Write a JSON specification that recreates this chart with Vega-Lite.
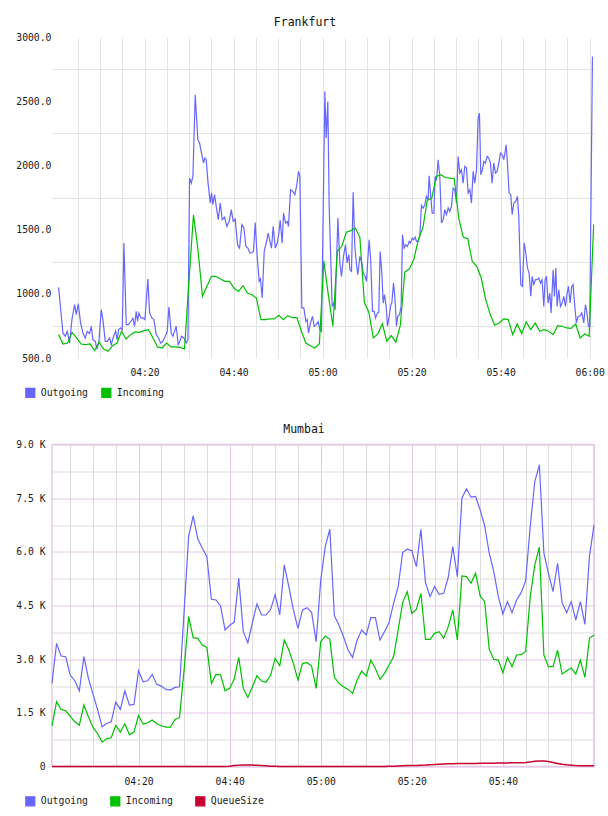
{
"$schema": "https://vega.github.io/schema/vega-lite/v6.json",
"padding": {"left": 15, "top": 16, "right": 0, "bottom": 0},
"background": "white",
"config": {
  "font": "DejaVu Sans Mono",
  "view": {"stroke": null},
  "axis": {"labelFont": "DejaVu Sans Mono", "labelFontSize": 9.7, "labelColor": "#1a1a1a", "domain": false, "ticks": false, "tickSize": 0, "title": null, "labelOverlap": false, "labelFlush": false, "labelBound": false},
  "legend": {"labelFont": "DejaVu Sans Mono", "labelFontSize": 9.8, "labelColor": "#1a1a1a"},
  "title": {"font": "DejaVu Sans Mono", "fontSize": 11.5, "fontWeight": "normal", "color": "#111111"},
  "line": {"strokeWidth": 1.2}
},
"datasets": {
"fra": [
{"m":0.70,"v":1050,"s":"Outgoing"},{"m":1.68,"v":695,"s":"Outgoing"},{"m":2.20,"v":669,"s":"Outgoing"},{"m":2.65,"v":708,"s":"Outgoing"},{"m":3.17,"v":617,"s":"Outgoing"},{"m":3.70,"v":799,"s":"Outgoing"},{"m":4.30,"v":916,"s":"Outgoing"},{"m":4.67,"v":838,"s":"Outgoing"},{"m":5.12,"v":923,"s":"Outgoing"},{"m":5.64,"v":773,"s":"Outgoing"},
{"m":6.17,"v":695,"s":"Outgoing"},{"m":6.69,"v":656,"s":"Outgoing"},{"m":7.14,"v":708,"s":"Outgoing"},{"m":7.66,"v":690,"s":"Outgoing"},{"m":8.04,"v":747,"s":"Outgoing"},{"m":8.41,"v":643,"s":"Outgoing"},{"m":8.94,"v":630,"s":"Outgoing"},{"m":9.31,"v":570,"s":"Outgoing"},{"m":9.76,"v":630,"s":"Outgoing"},{"m":10.28,"v":876,"s":"Outgoing"},
{"m":10.66,"v":799,"s":"Outgoing"},{"m":11.18,"v":630,"s":"Outgoing"},{"m":11.63,"v":630,"s":"Outgoing"},{"m":12.16,"v":656,"s":"Outgoing"},{"m":12.53,"v":604,"s":"Outgoing"},{"m":13.05,"v":669,"s":"Outgoing"},{"m":13.50,"v":708,"s":"Outgoing"},{"m":13.88,"v":643,"s":"Outgoing"},{"m":14.18,"v":721,"s":"Outgoing"},{"m":14.63,"v":734,"s":"Outgoing"},
{"m":15.00,"v":720,"s":"Outgoing"},{"m":15.37,"v":1396,"s":"Outgoing"},{"m":15.90,"v":760,"s":"Outgoing"},{"m":16.42,"v":760,"s":"Outgoing"},{"m":16.95,"v":786,"s":"Outgoing"},{"m":17.40,"v":809,"s":"Outgoing"},{"m":17.77,"v":747,"s":"Outgoing"},{"m":18.14,"v":863,"s":"Outgoing"},{"m":18.44,"v":786,"s":"Outgoing"},{"m":18.74,"v":851,"s":"Outgoing"},
{"m":19.19,"v":812,"s":"Outgoing"},{"m":19.64,"v":812,"s":"Outgoing"},{"m":20.09,"v":799,"s":"Outgoing"},{"m":20.76,"v":1115,"s":"Outgoing"},{"m":21.14,"v":851,"s":"Outgoing"},{"m":21.66,"v":812,"s":"Outgoing"},{"m":22.11,"v":799,"s":"Outgoing"},{"m":22.63,"v":682,"s":"Outgoing"},{"m":23.16,"v":656,"s":"Outgoing"},{"m":23.61,"v":617,"s":"Outgoing"},
{"m":24.13,"v":630,"s":"Outgoing"},{"m":24.66,"v":669,"s":"Outgoing"},{"m":25.10,"v":708,"s":"Outgoing"},{"m":25.48,"v":897,"s":"Outgoing"},{"m":26.00,"v":695,"s":"Outgoing"},{"m":26.38,"v":669,"s":"Outgoing"},{"m":26.75,"v":708,"s":"Outgoing"},{"m":27.13,"v":747,"s":"Outgoing"},{"m":27.57,"v":604,"s":"Outgoing"},{"m":27.95,"v":630,"s":"Outgoing"},
{"m":28.32,"v":669,"s":"Outgoing"},{"m":28.85,"v":656,"s":"Outgoing"},{"m":29.37,"v":617,"s":"Outgoing"},{"m":29.75,"v":643,"s":"Outgoing"},{"m":30.12,"v":1901,"s":"Outgoing"},{"m":30.50,"v":1862,"s":"Outgoing"},{"m":30.87,"v":1914,"s":"Outgoing"},{"m":31.39,"v":2549,"s":"Outgoing"},{"m":31.99,"v":2199,"s":"Outgoing"},{"m":32.37,"v":2174,"s":"Outgoing"},
{"m":32.81,"v":2096,"s":"Outgoing"},{"m":33.26,"v":2018,"s":"Outgoing"},{"m":33.56,"v":2057,"s":"Outgoing"},{"m":33.86,"v":2044,"s":"Outgoing"},{"m":34.24,"v":1876,"s":"Outgoing"},{"m":34.76,"v":1707,"s":"Outgoing"},{"m":35.06,"v":1785,"s":"Outgoing"},{"m":35.36,"v":1694,"s":"Outgoing"},{"m":35.73,"v":1772,"s":"Outgoing"},{"m":36.11,"v":1681,"s":"Outgoing"},
{"m":36.56,"v":1577,"s":"Outgoing"},{"m":37.01,"v":1707,"s":"Outgoing"},{"m":37.46,"v":1577,"s":"Outgoing"},{"m":37.98,"v":1597,"s":"Outgoing"},{"m":38.50,"v":1525,"s":"Outgoing"},{"m":39.03,"v":1564,"s":"Outgoing"},{"m":39.48,"v":1655,"s":"Outgoing"},{"m":39.93,"v":1564,"s":"Outgoing"},{"m":40.37,"v":1582,"s":"Outgoing"},{"m":40.90,"v":1382,"s":"Outgoing"},
{"m":41.35,"v":1356,"s":"Outgoing"},{"m":41.87,"v":1538,"s":"Outgoing"},{"m":42.32,"v":1512,"s":"Outgoing"},{"m":42.77,"v":1369,"s":"Outgoing"},{"m":43.22,"v":1356,"s":"Outgoing"},{"m":43.67,"v":1317,"s":"Outgoing"},{"m":44.12,"v":1322,"s":"Outgoing"},{"m":44.49,"v":1330,"s":"Outgoing"},{"m":44.87,"v":1556,"s":"Outgoing"},{"m":45.31,"v":1291,"s":"Outgoing"},
{"m":45.76,"v":1097,"s":"Outgoing"},{"m":46.06,"v":1115,"s":"Outgoing"},{"m":46.44,"v":967,"s":"Outgoing"},{"m":46.89,"v":1330,"s":"Outgoing"},{"m":47.34,"v":1395,"s":"Outgoing"},{"m":47.78,"v":1473,"s":"Outgoing"},{"m":48.08,"v":1421,"s":"Outgoing"},{"m":48.53,"v":1356,"s":"Outgoing"},{"m":48.91,"v":1525,"s":"Outgoing"},{"m":49.36,"v":1356,"s":"Outgoing"},
{"m":49.81,"v":1395,"s":"Outgoing"},{"m":50.18,"v":1473,"s":"Outgoing"},{"m":50.48,"v":1572,"s":"Outgoing"},{"m":50.93,"v":1395,"s":"Outgoing"},{"m":51.23,"v":1629,"s":"Outgoing"},{"m":51.68,"v":1551,"s":"Outgoing"},{"m":52.05,"v":1564,"s":"Outgoing"},{"m":52.35,"v":1525,"s":"Outgoing"},{"m":52.80,"v":1810,"s":"Outgoing"},{"m":53.32,"v":1797,"s":"Outgoing"},
{"m":53.77,"v":1772,"s":"Outgoing"},{"m":54.15,"v":1836,"s":"Outgoing"},{"m":54.60,"v":1953,"s":"Outgoing"},{"m":54.90,"v":1914,"s":"Outgoing"},{"m":55.34,"v":890,"s":"Outgoing"},{"m":55.79,"v":890,"s":"Outgoing"},{"m":56.24,"v":786,"s":"Outgoing"},{"m":56.54,"v":799,"s":"Outgoing"},{"m":56.84,"v":695,"s":"Outgoing"},{"m":57.29,"v":773,"s":"Outgoing"},
{"m":57.74,"v":825,"s":"Outgoing"},{"m":58.11,"v":747,"s":"Outgoing"},{"m":58.56,"v":760,"s":"Outgoing"},{"m":59.01,"v":783,"s":"Outgoing"},{"m":59.39,"v":721,"s":"Outgoing"},{"m":59.76,"v":708,"s":"Outgoing"},{"m":60.51,"v":2576,"s":"Outgoing"},{"m":60.81,"v":2213,"s":"Outgoing"},{"m":61.18,"v":2498,"s":"Outgoing"},{"m":61.48,"v":1681,"s":"Outgoing"},
{"m":62.16,"v":902,"s":"Outgoing"},{"m":62.53,"v":928,"s":"Outgoing"},{"m":62.83,"v":876,"s":"Outgoing"},{"m":63.43,"v":1590,"s":"Outgoing"},{"m":63.88,"v":1240,"s":"Outgoing"},{"m":64.25,"v":1136,"s":"Outgoing"},{"m":64.70,"v":1292,"s":"Outgoing"},{"m":65.15,"v":1383,"s":"Outgoing"},{"m":65.52,"v":1240,"s":"Outgoing"},{"m":65.90,"v":1305,"s":"Outgoing"},
{"m":66.13,"v":1188,"s":"Outgoing"},{"m":66.50,"v":1175,"s":"Outgoing"},{"m":66.87,"v":1790,"s":"Outgoing"},{"m":67.25,"v":1370,"s":"Outgoing"},{"m":67.62,"v":1227,"s":"Outgoing"},{"m":67.92,"v":1149,"s":"Outgoing"},{"m":68.37,"v":1292,"s":"Outgoing"},{"m":68.82,"v":1240,"s":"Outgoing"},{"m":69.12,"v":1162,"s":"Outgoing"},{"m":69.57,"v":1136,"s":"Outgoing"},
{"m":69.87,"v":1097,"s":"Outgoing"},{"m":70.16,"v":1266,"s":"Outgoing"},{"m":70.46,"v":1421,"s":"Outgoing"},{"m":70.84,"v":1240,"s":"Outgoing"},{"m":71.21,"v":863,"s":"Outgoing"},{"m":71.59,"v":863,"s":"Outgoing"},{"m":71.89,"v":812,"s":"Outgoing"},{"m":72.34,"v":851,"s":"Outgoing"},{"m":72.63,"v":856,"s":"Outgoing"},{"m":72.93,"v":1330,"s":"Outgoing"},
{"m":73.31,"v":1162,"s":"Outgoing"},{"m":73.61,"v":928,"s":"Outgoing"},{"m":73.91,"v":993,"s":"Outgoing"},{"m":74.28,"v":902,"s":"Outgoing"},{"m":74.58,"v":747,"s":"Outgoing"},{"m":74.96,"v":825,"s":"Outgoing"},{"m":75.33,"v":915,"s":"Outgoing"},{"m":75.56,"v":928,"s":"Outgoing"},{"m":75.93,"v":1084,"s":"Outgoing"},{"m":76.23,"v":980,"s":"Outgoing"},
{"m":76.60,"v":747,"s":"Outgoing"},{"m":76.90,"v":825,"s":"Outgoing"},{"m":77.28,"v":838,"s":"Outgoing"},{"m":77.65,"v":902,"s":"Outgoing"},{"m":77.95,"v":1460,"s":"Outgoing"},{"m":78.32,"v":1356,"s":"Outgoing"},{"m":78.70,"v":1382,"s":"Outgoing"},{"m":79.07,"v":1369,"s":"Outgoing"},{"m":79.45,"v":1408,"s":"Outgoing"},{"m":79.75,"v":1395,"s":"Outgoing"},
{"m":80.12,"v":1434,"s":"Outgoing"},{"m":80.49,"v":1421,"s":"Outgoing"},{"m":80.79,"v":1442,"s":"Outgoing"},{"m":81.09,"v":1408,"s":"Outgoing"},{"m":81.47,"v":1408,"s":"Outgoing"},{"m":81.84,"v":1447,"s":"Outgoing"},{"m":82.21,"v":1688,"s":"Outgoing"},{"m":82.59,"v":1668,"s":"Outgoing"},{"m":82.97,"v":1694,"s":"Outgoing"},{"m":83.34,"v":1759,"s":"Outgoing"},
{"m":83.71,"v":1733,"s":"Outgoing"},{"m":83.94,"v":1920,"s":"Outgoing"},{"m":84.24,"v":1785,"s":"Outgoing"},{"m":84.61,"v":1629,"s":"Outgoing"},{"m":84.99,"v":1629,"s":"Outgoing"},{"m":85.29,"v":1914,"s":"Outgoing"},{"m":85.59,"v":1883,"s":"Outgoing"},{"m":85.96,"v":2044,"s":"Outgoing"},{"m":86.33,"v":1914,"s":"Outgoing"},{"m":86.71,"v":1551,"s":"Outgoing"},
{"m":87.08,"v":1577,"s":"Outgoing"},{"m":87.46,"v":1655,"s":"Outgoing"},{"m":87.83,"v":1616,"s":"Outgoing"},{"m":88.21,"v":1668,"s":"Outgoing"},{"m":88.58,"v":1642,"s":"Outgoing"},{"m":88.95,"v":1681,"s":"Outgoing"},{"m":89.33,"v":1823,"s":"Outgoing"},{"m":89.70,"v":1811,"s":"Outgoing"},{"m":90.07,"v":1707,"s":"Outgoing"},{"m":90.45,"v":2070,"s":"Outgoing"},
{"m":90.82,"v":1940,"s":"Outgoing"},{"m":91.20,"v":1966,"s":"Outgoing"},{"m":91.57,"v":1862,"s":"Outgoing"},{"m":91.95,"v":1992,"s":"Outgoing"},{"m":92.32,"v":1979,"s":"Outgoing"},{"m":92.70,"v":1785,"s":"Outgoing"},{"m":93.07,"v":1811,"s":"Outgoing"},{"m":93.44,"v":1707,"s":"Outgoing"},{"m":93.82,"v":1953,"s":"Outgoing"},{"m":94.19,"v":1862,"s":"Outgoing"},
{"m":94.57,"v":1966,"s":"Outgoing"},{"m":94.94,"v":2368,"s":"Outgoing"},{"m":95.24,"v":2407,"s":"Outgoing"},{"m":95.54,"v":1927,"s":"Outgoing"},{"m":95.91,"v":1966,"s":"Outgoing"},{"m":96.21,"v":2031,"s":"Outgoing"},{"m":96.59,"v":2018,"s":"Outgoing"},{"m":96.96,"v":2070,"s":"Outgoing"},{"m":97.34,"v":2057,"s":"Outgoing"},{"m":97.71,"v":2018,"s":"Outgoing"},
{"m":98.08,"v":1862,"s":"Outgoing"},{"m":98.46,"v":2018,"s":"Outgoing"},{"m":98.83,"v":1940,"s":"Outgoing"},{"m":99.21,"v":1953,"s":"Outgoing"},{"m":99.58,"v":2018,"s":"Outgoing"},{"m":99.96,"v":2096,"s":"Outgoing"},{"m":100.33,"v":2083,"s":"Outgoing"},{"m":100.71,"v":2044,"s":"Outgoing"},{"m":101.23,"v":2161,"s":"Outgoing"},{"m":101.53,"v":2018,"s":"Outgoing"},
{"m":101.90,"v":1785,"s":"Outgoing"},{"m":102.28,"v":1772,"s":"Outgoing"},{"m":102.58,"v":1616,"s":"Outgoing"},{"m":102.95,"v":1707,"s":"Outgoing"},{"m":103.40,"v":1720,"s":"Outgoing"},{"m":103.77,"v":1759,"s":"Outgoing"},{"m":104.07,"v":1603,"s":"Outgoing"},{"m":104.52,"v":1071,"s":"Outgoing"},{"m":104.90,"v":1058,"s":"Outgoing"},{"m":105.27,"v":1396,"s":"Outgoing"},
{"m":105.65,"v":1318,"s":"Outgoing"},{"m":106.02,"v":1201,"s":"Outgoing"},{"m":106.39,"v":1162,"s":"Outgoing"},{"m":106.77,"v":981,"s":"Outgoing"},{"m":107.07,"v":1136,"s":"Outgoing"},{"m":107.44,"v":1071,"s":"Outgoing"},{"m":107.82,"v":1110,"s":"Outgoing"},{"m":108.19,"v":1110,"s":"Outgoing"},{"m":108.57,"v":1123,"s":"Outgoing"},{"m":108.94,"v":1084,"s":"Outgoing"},
{"m":109.31,"v":1110,"s":"Outgoing"},{"m":109.69,"v":902,"s":"Outgoing"},{"m":109.99,"v":1110,"s":"Outgoing"},{"m":110.29,"v":1136,"s":"Outgoing"},{"m":110.66,"v":928,"s":"Outgoing"},{"m":111.04,"v":1006,"s":"Outgoing"},{"m":111.34,"v":851,"s":"Outgoing"},{"m":111.79,"v":1188,"s":"Outgoing"},{"m":112.09,"v":980,"s":"Outgoing"},{"m":112.39,"v":1201,"s":"Outgoing"},
{"m":112.69,"v":902,"s":"Outgoing"},{"m":113.06,"v":1032,"s":"Outgoing"},{"m":113.43,"v":902,"s":"Outgoing"},{"m":113.81,"v":928,"s":"Outgoing"},{"m":114.18,"v":980,"s":"Outgoing"},{"m":114.56,"v":902,"s":"Outgoing"},{"m":114.93,"v":1006,"s":"Outgoing"},{"m":115.23,"v":1058,"s":"Outgoing"},{"m":115.60,"v":928,"s":"Outgoing"},{"m":115.98,"v":1058,"s":"Outgoing"},
{"m":116.28,"v":1071,"s":"Outgoing"},{"m":116.65,"v":902,"s":"Outgoing"},{"m":117.02,"v":773,"s":"Outgoing"},{"m":117.40,"v":825,"s":"Outgoing"},{"m":117.77,"v":825,"s":"Outgoing"},{"m":118.22,"v":851,"s":"Outgoing"},{"m":118.67,"v":773,"s":"Outgoing"},{"m":119.04,"v":915,"s":"Outgoing"},{"m":119.34,"v":863,"s":"Outgoing"},{"m":119.72,"v":747,"s":"Outgoing"},
{"m":120.01,"v":747,"s":"Outgoing"},{"m":120.62,"v":2849,"s":"Outgoing"},
{"m":0.70,"v":682,"s":"Incoming"},{"m":1.71,"v":609,"s":"Incoming"},{"m":2.72,"v":617,"s":"Incoming"},{"m":3.73,"v":700,"s":"Incoming"},{"m":4.74,"v":656,"s":"Incoming"},{"m":5.75,"v":609,"s":"Incoming"},{"m":6.76,"v":604,"s":"Incoming"},{"m":7.77,"v":609,"s":"Incoming"},{"m":8.78,"v":557,"s":"Incoming"},{"m":9.79,"v":625,"s":"Incoming"},
{"m":10.80,"v":570,"s":"Incoming"},{"m":11.81,"v":552,"s":"Incoming"},{"m":12.82,"v":596,"s":"Incoming"},{"m":13.83,"v":617,"s":"Incoming"},{"m":14.84,"v":708,"s":"Incoming"},{"m":15.85,"v":648,"s":"Incoming"},{"m":16.86,"v":682,"s":"Incoming"},{"m":17.87,"v":703,"s":"Incoming"},{"m":18.88,"v":700,"s":"Incoming"},{"m":19.89,"v":713,"s":"Incoming"},
{"m":20.90,"v":721,"s":"Incoming"},{"m":21.91,"v":656,"s":"Incoming"},{"m":22.92,"v":586,"s":"Incoming"},{"m":23.93,"v":578,"s":"Incoming"},{"m":24.94,"v":617,"s":"Incoming"},{"m":25.95,"v":586,"s":"Incoming"},{"m":26.96,"v":586,"s":"Incoming"},{"m":27.97,"v":583,"s":"Incoming"},{"m":28.98,"v":570,"s":"Incoming"},{"m":29.99,"v":1100,"s":"Incoming"},
{"m":31.00,"v":1615,"s":"Incoming"},{"m":32.01,"v":1344,"s":"Incoming"},{"m":33.02,"v":981,"s":"Incoming"},{"m":34.03,"v":1059,"s":"Incoming"},{"m":35.04,"v":1136,"s":"Incoming"},{"m":36.05,"v":1136,"s":"Incoming"},{"m":37.06,"v":1115,"s":"Incoming"},{"m":38.07,"v":1097,"s":"Incoming"},{"m":39.08,"v":1097,"s":"Incoming"},{"m":40.09,"v":1045,"s":"Incoming"},
{"m":41.10,"v":1019,"s":"Incoming"},{"m":42.11,"v":1063,"s":"Incoming"},{"m":43.12,"v":1006,"s":"Incoming"},{"m":44.13,"v":993,"s":"Incoming"},{"m":45.14,"v":967,"s":"Incoming"},{"m":46.15,"v":799,"s":"Incoming"},{"m":47.16,"v":799,"s":"Incoming"},{"m":48.17,"v":804,"s":"Incoming"},{"m":49.18,"v":804,"s":"Incoming"},{"m":50.19,"v":833,"s":"Incoming"},
{"m":51.20,"v":799,"s":"Incoming"},{"m":52.21,"v":830,"s":"Incoming"},{"m":53.22,"v":814,"s":"Incoming"},{"m":54.23,"v":814,"s":"Incoming"},{"m":55.24,"v":708,"s":"Incoming"},{"m":56.25,"v":617,"s":"Incoming"},{"m":57.26,"v":596,"s":"Incoming"},{"m":58.27,"v":578,"s":"Incoming"},{"m":59.28,"v":612,"s":"Incoming"},{"m":60.29,"v":1257,"s":"Incoming"},
{"m":61.30,"v":990,"s":"Incoming"},{"m":62.31,"v":747,"s":"Incoming"},{"m":63.32,"v":1331,"s":"Incoming"},{"m":64.33,"v":1370,"s":"Incoming"},{"m":65.34,"v":1479,"s":"Incoming"},{"m":66.35,"v":1492,"s":"Incoming"},{"m":67.36,"v":1512,"s":"Incoming"},{"m":68.37,"v":1442,"s":"Incoming"},{"m":69.38,"v":934,"s":"Incoming"},{"m":70.39,"v":857,"s":"Incoming"},
{"m":71.40,"v":657,"s":"Incoming"},{"m":72.41,"v":688,"s":"Incoming"},{"m":73.42,"v":766,"s":"Incoming"},{"m":74.43,"v":631,"s":"Incoming"},{"m":75.44,"v":675,"s":"Incoming"},{"m":76.45,"v":623,"s":"Incoming"},{"m":77.46,"v":753,"s":"Incoming"},{"m":78.47,"v":1170,"s":"Incoming"},{"m":79.48,"v":1193,"s":"Incoming"},{"m":80.49,"v":1266,"s":"Incoming"},
{"m":81.50,"v":1421,"s":"Incoming"},{"m":82.51,"v":1512,"s":"Incoming"},{"m":83.52,"v":1727,"s":"Incoming"},{"m":84.53,"v":1745,"s":"Incoming"},{"m":85.54,"v":1914,"s":"Incoming"},{"m":86.55,"v":1927,"s":"Incoming"},{"m":87.56,"v":1906,"s":"Incoming"},{"m":88.57,"v":1901,"s":"Incoming"},{"m":89.58,"v":1896,"s":"Incoming"},{"m":90.59,"v":1590,"s":"Incoming"},
{"m":91.60,"v":1440,"s":"Incoming"},{"m":92.61,"v":1430,"s":"Incoming"},{"m":93.62,"v":1253,"s":"Incoming"},{"m":94.63,"v":1214,"s":"Incoming"},{"m":95.64,"v":1123,"s":"Incoming"},{"m":96.65,"v":955,"s":"Incoming"},{"m":97.66,"v":838,"s":"Incoming"},{"m":98.67,"v":755,"s":"Incoming"},{"m":99.68,"v":773,"s":"Incoming"},{"m":100.69,"v":804,"s":"Incoming"},
{"m":101.70,"v":799,"s":"Incoming"},{"m":102.71,"v":682,"s":"Incoming"},{"m":103.72,"v":765,"s":"Incoming"},{"m":104.73,"v":690,"s":"Incoming"},{"m":105.74,"v":781,"s":"Incoming"},{"m":106.75,"v":721,"s":"Incoming"},{"m":107.76,"v":773,"s":"Incoming"},{"m":108.77,"v":708,"s":"Incoming"},{"m":109.78,"v":721,"s":"Incoming"},{"m":110.79,"v":708,"s":"Incoming"},
{"m":111.80,"v":682,"s":"Incoming"},{"m":112.81,"v":752,"s":"Incoming"},{"m":113.82,"v":747,"s":"Incoming"},{"m":114.83,"v":734,"s":"Incoming"},{"m":115.84,"v":731,"s":"Incoming"},{"m":116.85,"v":765,"s":"Incoming"},{"m":117.86,"v":656,"s":"Incoming"},{"m":118.87,"v":687,"s":"Incoming"},{"m":119.88,"v":669,"s":"Incoming"},{"m":120.89,"v":1539,"s":"Incoming"}
],
"mum": [
{"m":1,"o":2323,"i":1138,"q":0},{"m":2,"o":3442,"i":1810,"q":0},{"m":3,"o":3088,"i":1595,"q":0},{"m":4,"o":3069,"i":1558,"q":0},{"m":5,"o":2556,"i":1409,"q":0},{"m":6,"o":2397,"i":1250,"q":0},{"m":7,"o":2117,"i":1157,"q":0},{"m":8,"o":3069,"i":1716,"q":0},{"m":9,"o":2463,"i":1390,"q":0},{"m":10,"o":2024,"i":1091,"q":0},
{"m":11,"o":1595,"i":923,"q":0},{"m":12,"o":1110,"i":681,"q":0},{"m":13,"o":1203,"i":774,"q":0},{"m":14,"o":1250,"i":802,"q":0},{"m":15,"o":1800,"i":1147,"q":0},{"m":16,"o":1595,"i":961,"q":0},{"m":17,"o":2117,"i":1194,"q":0},{"m":18,"o":1716,"i":886,"q":0},{"m":19,"o":1735,"i":961,"q":0},{"m":20,"o":2677,"i":1427,"q":0},
{"m":21,"o":2369,"i":1185,"q":0},{"m":22,"o":2397,"i":1222,"q":0},{"m":23,"o":2575,"i":1297,"q":0},{"m":24,"o":2295,"i":1194,"q":0},{"m":25,"o":2248,"i":1138,"q":0},{"m":26,"o":2155,"i":1101,"q":0},{"m":27,"o":2136,"i":1101,"q":0},{"m":28,"o":2211,"i":1315,"q":0},{"m":29,"o":2229,"i":1371,"q":0},{"m":30,"o":4328,"i":2700,"q":0},
{"m":31,"o":6427,"i":4188,"q":0},{"m":32,"o":7005,"i":3601,"q":0},{"m":33,"o":6362,"i":3582,"q":0},{"m":34,"o":6100,"i":3395,"q":0},{"m":35,"o":5867,"i":3330,"q":0},{"m":36,"o":4673,"i":2323,"q":0},{"m":37,"o":4655,"i":2575,"q":0},{"m":38,"o":4496,"i":2565,"q":0},{"m":39,"o":3815,"i":2117,"q":0},{"m":40,"o":3946,"i":2183,"q":10},
{"m":41,"o":4030,"i":2435,"q":25},{"m":42,"o":5261,"i":3050,"q":35},{"m":43,"o":3769,"i":2183,"q":40},{"m":44,"o":3461,"i":1931,"q":40},{"m":45,"o":4021,"i":2229,"q":40},{"m":46,"o":4543,"i":2537,"q":35},{"m":47,"o":4235,"i":2388,"q":30},{"m":48,"o":4235,"i":2351,"q":20},{"m":49,"o":4393,"i":2556,"q":10},{"m":50,"o":4804,"i":3022,"q":5},
{"m":51,"o":4235,"i":2817,"q":0},{"m":52,"o":5634,"i":3535,"q":0},{"m":53,"o":5028,"i":3255,"q":0},{"m":54,"o":4375,"i":2882,"q":0},{"m":55,"o":3862,"i":2416,"q":0},{"m":56,"o":4375,"i":2882,"q":0},{"m":57,"o":4440,"i":2901,"q":0},{"m":58,"o":4310,"i":2808,"q":0},{"m":59,"o":3489,"i":2183,"q":0},{"m":60,"o":5214,"i":3489,"q":0},
{"m":61,"o":6147,"i":3647,"q":0},{"m":62,"o":6632,"i":3554,"q":0},{"m":63,"o":4216,"i":2491,"q":0},{"m":64,"o":3955,"i":2323,"q":0},{"m":65,"o":3629,"i":2229,"q":0},{"m":66,"o":3255,"i":2155,"q":0},{"m":67,"o":3050,"i":2043,"q":0},{"m":68,"o":3535,"i":2416,"q":0},{"m":69,"o":3815,"i":2668,"q":0},{"m":70,"o":3675,"i":2528,"q":0},
{"m":71,"o":4160,"i":2976,"q":0},{"m":72,"o":4160,"i":2742,"q":0},{"m":73,"o":3535,"i":2435,"q":0},{"m":74,"o":3769,"i":2603,"q":0},{"m":75,"o":4021,"i":2836,"q":5},{"m":76,"o":4561,"i":3069,"q":10},{"m":77,"o":5028,"i":3815,"q":15},{"m":78,"o":5989,"i":4589,"q":20},{"m":79,"o":6073,"i":4888,"q":25},{"m":80,"o":6035,"i":4282,"q":28},
{"m":81,"o":5587,"i":4393,"q":30},{"m":82,"o":6632,"i":4841,"q":35},{"m":83,"o":5140,"i":3554,"q":40},{"m":84,"o":4748,"i":3554,"q":48},{"m":85,"o":5028,"i":3722,"q":55},{"m":86,"o":4813,"i":3769,"q":62},{"m":87,"o":4841,"i":3582,"q":70},{"m":88,"o":5289,"i":3908,"q":75},{"m":89,"o":6147,"i":4375,"q":80},{"m":90,"o":5308,"i":3535,"q":83},
{"m":91,"o":7500,"i":5326,"q":85},{"m":92,"o":7761,"i":5308,"q":85},{"m":93,"o":7528,"i":5121,"q":86},{"m":94,"o":7546,"i":5401,"q":87},{"m":95,"o":7173,"i":4767,"q":88},{"m":96,"o":6725,"i":4608,"q":89},{"m":97,"o":5961,"i":3274,"q":90},{"m":98,"o":5448,"i":2994,"q":92},{"m":99,"o":4748,"i":2976,"q":95},{"m":100,"o":4263,"i":2621,"q":97},
{"m":101,"o":4608,"i":3050,"q":100},{"m":102,"o":4300,"i":2789,"q":102},{"m":103,"o":4655,"i":3116,"q":105},{"m":104,"o":4860,"i":3125,"q":108},{"m":105,"o":5196,"i":3218,"q":115},{"m":106,"o":6707,"i":4748,"q":128},{"m":107,"o":7966,"i":5634,"q":145},{"m":108,"o":8433,"i":6128,"q":155},{"m":109,"o":5961,"i":3116,"q":155},{"m":110,"o":5401,"i":2789,"q":140},
{"m":111,"o":4888,"i":2789,"q":110},{"m":112,"o":5681,"i":3255,"q":85},{"m":113,"o":4580,"i":2584,"q":62},{"m":114,"o":4300,"i":2677,"q":46},{"m":115,"o":4608,"i":2752,"q":36},{"m":116,"o":4095,"i":2584,"q":28},{"m":117,"o":4608,"i":2976,"q":23},{"m":118,"o":3974,"i":2491,"q":20},{"m":119,"o":5867,"i":3582,"q":20},{"m":120,"o":6753,"i":3675,"q":20}
]
},
"vconcat": [
{
  "title": {"text": "Frankfurt", "anchor": "middle", "dx": -18, "offset": -5, "baseline": "alphabetic"},
  "width": 542, "height": 321,
  "data": {"name": "fra"},
  "encoding": {
    "x": {"field": "m", "type": "quantitative", "scale": {"domain": [-0.78, 120.97], "nice": false, "zero": false},
      "axis": {"values": [5,10,15,20,25,30,35,40,45,50,55,60,65,70,75,80,85,90,95,100,105,110,115,120],
        "labelExpr": "datum.value % 20 == 0 ? timeFormat(datetime(2020, 0, 1, 4, datum.value, 0), '%H:%M') : ''",
        "grid": true, "gridColor": "#e4e4e4", "labelPadding": 9}},
    "y": {"field": "v", "type": "quantitative", "scale": {"domain": [500, 3000], "nice": false, "zero": false},
      "axis": {"values": [500,750,1000,1250,1500,1750,2000,2250,2500,2750,3000],
        "labelExpr": "datum.value % 500 == 0 ? format(datum.value, '.1f') : ''",
        "grid": true, "gridColor": "#e4e4e4", "gridOpacity": {"condition": {"test": "datum.value % 500 == 0", "value": 0}, "value": 1}, "labelPadding": 1.2}},
    "color": {"field": "s", "type": "nominal", "scale": {"domain": ["Outgoing", "Incoming"], "range": ["#6666ff", "#00c000"]},
      "legend": {"orient": "none", "legendX": -27.2, "legendY": 350, "direction": "horizontal", "title": null, "symbolType": "square", "symbolSize": 81,
        "symbolFillColor": {"expr": "datum.value == 'Outgoing' ? '#6666ff' : datum.value == 'Incoming' ? '#00c000' : '#c80032'"},
        "labelOffset": 5, "columnPadding": 10}}
  },
  "layer": [
    {"transform": [{"filter": "datum.s == 'Outgoing'"}], "mark": {"type": "line"}},
    {"transform": [{"filter": "datum.s == 'Incoming'"}], "mark": {"type": "line"}}
  ]
},
{
  "title": {"text": "Mumbai", "anchor": "middle", "dx": -19, "offset": -5, "baseline": "alphabetic"},
  "width": 542, "height": 322,
  "view": {"stroke": "#e6cce6", "strokeWidth": 1.5},
  "data": {"name": "mum"},
  "transform": [{"fold": ["o", "i", "q"], "as": ["k", "v"]}, {"calculate": "datum.k == 'o' ? 'Outgoing' : datum.k == 'i' ? 'Incoming' : 'QueueSize'", "as": "s"}],
  "encoding": {
    "x": {"field": "m", "type": "quantitative", "scale": {"domain": [1, 120], "nice": false, "zero": false},
      "axis": {"values": [5,10,15,20,25,30,35,40,45,50,55,60,65,70,75,80,85,90,95,100,105,110,115,120],
        "labelExpr": "datum.value % 20 == 0 && datum.value < 120 ? timeFormat(datetime(2020, 0, 1, 4, datum.value, 0), '%H:%M') : ''",
        "grid": true, "gridColor": {"condition": {"test": "datum.value % 20 == 0", "value": "#e2c6e2"}, "value": "#dcdcdc"}, "labelPadding": 10}},
    "y": {"field": "v", "type": "quantitative", "scale": {"domain": [0, 9000], "nice": false, "zero": false},
      "axis": {"values": [0,750,1500,2250,3000,3750,4500,5250,6000,6750,7500,8250,9000],
        "labelExpr": "datum.value % 1500 != 0 ? '' : datum.value == 0 ? '0' : format(datum.value / 1000, '.1f') + ' K'",
        "grid": true, "gridColor": {"condition": {"test": "datum.value % 1500 == 0", "value": "#e2c6e2"}, "value": "#dcdcdc"}, "labelPadding": 7}},
    "color": {"field": "s", "type": "nominal", "scale": {"domain": ["Outgoing", "Incoming", "QueueSize"], "range": ["#6666ff", "#00c000", "#c80032"]},
      "legend": {"orient": "none", "legendX": -27.2, "legendY": 351, "direction": "horizontal", "title": null, "symbolType": "square", "symbolSize": 81,
        "symbolFillColor": {"expr": "datum.value == 'Outgoing' ? '#6666ff' : datum.value == 'Incoming' ? '#00c000' : '#c80032'"},
        "labelOffset": 5, "columnPadding": 19}}
  },
  "layer": [
    {"transform": [{"filter": "datum.s == 'Outgoing'"}], "mark": {"type": "line"}},
    {"transform": [{"filter": "datum.s == 'Incoming'"}], "mark": {"type": "line"}},
    {"transform": [{"filter": "datum.s == 'QueueSize'"}], "mark": {"type": "line", "strokeWidth": 1.5}}
  ]
}
],
"spacing": 22.5,
"resolve": {"scale": {"x": "independent", "y": "independent", "color": "independent"}, "axis": {"x": "independent", "y": "independent"}, "legend": {"color": "independent"}}
}
